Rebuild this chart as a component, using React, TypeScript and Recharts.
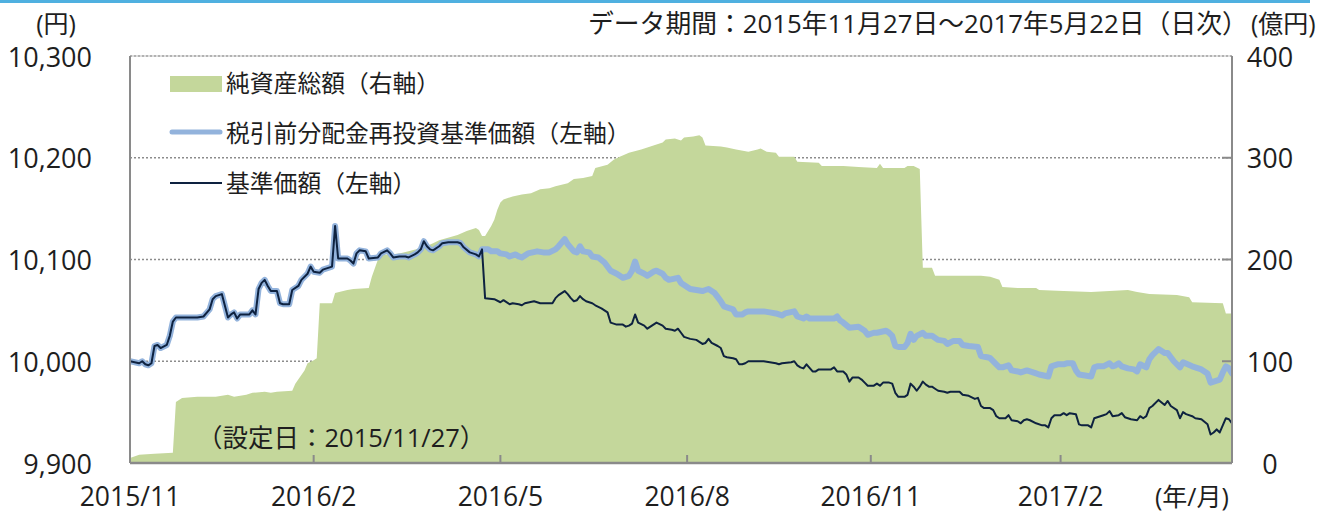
import React from 'react';
import { ComposedChart, Area, Line, XAxis, YAxis, CartesianGrid, ReferenceLine } from 'recharts';

const FONT = "'Open Sans', 'Noto Sans CJK JP', sans-serif";

// x = business-day index counted from the launch date 2015/11/27 (0 … 360)
const xTicks = [0, 60, 121, 182, 242, 304];
const xTickLabels = ['2015/11', '2016/2', '2016/5', '2016/8', '2016/11', '2017/2'];
const leftTicks = [9900, 10000, 10100, 10200, 10300];
const rightTicks = [0, 100, 200, 300, 400];

// Both NAV lines coincide until the first distribution (day 115)
const commonDays = [0, 3, 4, 5, 6, 7, 8, 9, 10, 12, 13, 14, 15, 22, 24, 26, 27, 28, 30, 32, 33, 34, 35, 36, 39, 40, 41, 42, 43, 44, 45, 46, 48, 49, 50, 52, 53, 55, 56, 58, 59, 60, 62, 63, 65, 66, 67, 68, 71, 72, 73, 74, 75, 77, 78, 81, 82, 84, 85, 86, 88, 90, 91, 93, 94, 95, 96, 97, 98, 99, 101, 102, 104, 107, 108, 109, 111, 112, 113, 114, 115];
const commonValues = [10000, 9998, 10000, 9997, 9996, 9998, 10015, 10016, 10013, 10016, 10025, 10039, 10043, 10043, 10044, 10051, 10061, 10064, 10066, 10043, 10046, 10048, 10042, 10046, 10046, 10050, 10046, 10071, 10077, 10080, 10074, 10069, 10069, 10057, 10056, 10056, 10070, 10074, 10080, 10086, 10093, 10088, 10087, 10090, 10092, 10093, 10133, 10101, 10101, 10099, 10096, 10106, 10109, 10108, 10101, 10102, 10106, 10109, 10106, 10102, 10103, 10103, 10102, 10105, 10107, 10110, 10118, 10113, 10110, 10109, 10113, 10116, 10117, 10117, 10116, 10112, 10107, 10106, 10105, 10103, 10110];

// 基準価額 after the distribution
const navDays = [116, 119, 121, 122, 124, 125, 127, 128, 129, 132, 134, 138, 139, 140, 142, 143, 144, 145, 146, 147, 148, 149, 151, 152, 154, 156, 157, 159, 161, 162, 163, 164, 165, 166, 168, 169, 171, 172, 174, 175, 177, 178, 179, 180, 181, 183, 185, 186, 187, 188, 189, 190, 192, 193, 194, 195, 197, 198, 199, 200, 201, 202, 207, 209, 211, 212, 213, 216, 217, 218, 219, 220, 221, 223, 224, 225, 229, 230, 231, 233, 234, 235, 236, 238, 239, 240, 241, 243, 244, 245, 246, 248, 249, 250, 251, 253, 254, 255, 256, 257, 258, 259, 260, 261, 262, 263, 264, 266, 267, 268, 271, 272, 274, 276, 277, 278, 279, 281, 282, 283, 284, 286, 287, 288, 290, 291, 292, 293, 294, 296, 298, 299, 300, 301, 302, 304, 305, 306, 307, 309, 310, 311, 313, 314, 315, 316, 318, 319, 320, 321, 323, 324, 325, 327, 329, 330, 331, 332, 333, 334, 336, 338, 339, 340, 342, 343, 344, 345, 347, 348, 350, 352, 353, 354, 355, 356, 358, 359, 360];
const navValues = [10062, 10061, 10058, 10060, 10056, 10057, 10056, 10055, 10057, 10059, 10057, 10057, 10062, 10065, 10069, 10066, 10062, 10059, 10060, 10064, 10061, 10059, 10057, 10055, 10052, 10048, 10038, 10036, 10036, 10034, 10035, 10037, 10046, 10038, 10035, 10032, 10036, 10038, 10035, 10032, 10031, 10030, 10032, 10028, 10024, 10022, 10021, 10019, 10017, 10018, 10022, 10018, 10015, 10013, 10005, 10004, 10003, 10002, 9997, 9997, 9998, 10000, 10000, 9999, 9998, 9997, 9998, 9999, 10000, 9996, 9994, 9993, 9997, 9990, 9990, 9992, 9992, 9994, 9990, 9990, 9987, 9980, 9984, 9984, 9982, 9979, 9976, 9976, 9978, 9976, 9979, 9979, 9978, 9969, 9965, 9965, 9967, 9978, 9975, 9971, 9975, 9980, 9977, 9975, 9975, 9973, 9971, 9970, 9969, 9970, 9970, 9967, 9966, 9963, 9964, 9956, 9954, 9954, 9952, 9946, 9944, 9944, 9947, 9942, 9941, 9939, 9942, 9943, 9942, 9939, 9937, 9937, 9935, 9944, 9947, 9947, 9949, 9947, 9949, 9948, 9938, 9937, 9937, 9935, 9944, 9945, 9947, 9948, 9951, 9946, 9947, 9949, 9945, 9943, 9942, 9946, 9944, 9946, 9954, 9956, 9962, 9957, 9961, 9956, 9952, 9944, 9950, 9948, 9946, 9944, 9943, 9938, 9928, 9930, 9933, 9930, 9944, 9943, 9939];

// 税引前分配金再投資基準価額 after the distribution
const reinvDays = [117, 118, 120, 121, 123, 124, 126, 127, 128, 130, 133, 135, 137, 139, 140, 142, 143, 145, 146, 147, 148, 150, 151, 153, 155, 157, 159, 161, 163, 164, 165, 166, 168, 169, 171, 172, 174, 175, 176, 179, 180, 182, 183, 185, 187, 188, 189, 191, 192, 193, 194, 195, 197, 198, 200, 201, 202, 207, 209, 211, 213, 214, 217, 218, 220, 221, 222, 230, 231, 232, 233, 235, 238, 240, 241, 243, 244, 247, 248, 249, 250, 251, 253, 254, 255, 256, 257, 259, 260, 262, 264, 266, 267, 269, 271, 272, 274, 277, 278, 280, 281, 283, 284, 285, 287, 288, 290, 291, 293, 294, 296, 297, 300, 301, 303, 305, 306, 308, 309, 310, 314, 315, 316, 318, 320, 321, 322, 323, 324, 326, 328, 329, 330, 332, 333, 334, 336, 338, 339, 340, 341, 343, 344, 347, 348, 350, 352, 353, 354, 356, 357, 358, 359, 360];
const reinvValues = [10110, 10108, 10108, 10106, 10105, 10103, 10105, 10103, 10102, 10106, 10108, 10107, 10107, 10110, 10113, 10120, 10115, 10108, 10107, 10113, 10108, 10107, 10103, 10102, 10097, 10089, 10086, 10082, 10084, 10089, 10098, 10089, 10086, 10084, 10088, 10089, 10086, 10082, 10080, 10082, 10077, 10073, 10071, 10070, 10069, 10070, 10071, 10067, 10063, 10059, 10054, 10053, 10051, 10046, 10046, 10048, 10049, 10049, 10048, 10047, 10045, 10047, 10049, 10044, 10042, 10044, 10042, 10042, 10044, 10040, 10038, 10033, 10034, 10030, 10026, 10028, 10028, 10030, 10028, 10025, 10015, 10014, 10014, 10018, 10027, 10021, 10025, 10028, 10025, 10025, 10021, 10020, 10017, 10020, 10020, 10016, 10015, 10014, 10005, 10004, 10003, 9997, 9994, 9994, 9996, 9991, 9990, 9989, 9991, 9990, 9988, 9987, 9985, 9995, 9997, 9997, 9998, 9998, 9991, 9987, 9985, 9994, 9995, 9995, 9998, 9995, 9996, 9998, 9995, 9993, 9992, 9990, 9997, 9994, 10002, 10006, 10012, 10008, 10008, 10004, 10000, 9994, 9999, 9995, 9994, 9992, 9988, 9979, 9980, 9982, 9989, 9995, 9993, 9988];

// 純資産総額 (億円)
const assetDays = [0, 3, 8, 14, 15, 17, 22, 28, 32, 34, 38, 40, 44, 46, 48, 53, 54, 57, 58, 60, 61, 62, 66, 67, 71, 73, 78, 79, 81, 83, 85, 88, 91, 96, 99, 101, 107, 110, 113, 114, 115, 116, 118, 119, 120, 121, 122, 125, 128, 131, 134, 137, 139, 143, 145, 148, 151, 152, 156, 158, 160, 163, 167, 170, 172, 174, 175, 178, 180, 181, 184, 186, 187, 188, 193, 195, 198, 202, 205, 206, 208, 211, 212, 217, 218, 225, 226, 233, 238, 244, 245, 246, 253, 254, 256, 258, 259, 262, 263, 278, 281, 284, 285, 290, 296, 297, 305, 314, 320, 326, 329, 333, 342, 346, 347, 357, 358, 360];
const assetValues = [5, 8, 9, 10, 60, 64, 65, 65, 67, 65, 67, 69, 70, 69, 70, 71, 78, 91, 98, 101, 103, 157, 157, 167, 170, 171, 172, 183, 200, 205, 205, 206, 208, 212, 216, 219, 224, 228, 231, 229, 223, 223, 233, 239, 249, 256, 259, 262, 264, 265, 269, 270, 272, 275, 279, 280, 282, 290, 293, 298, 301, 305, 308, 311, 313, 315, 318, 319, 317, 320, 321, 322, 320, 312, 311, 310, 308, 306, 308, 309, 306, 305, 301, 301, 296, 295, 292, 292, 291, 290, 294, 290, 290, 292, 292, 289, 192, 192, 184, 184, 183, 180, 173, 172, 172, 170, 169, 168, 169, 170, 168, 166, 165, 163, 158, 157, 147, 147];

const legendItems = [
  { kind: 'area', label: '純資産総額（右軸）' },
  { kind: 'reinv', label: '税引前分配金再投資基準価額（左軸）' },
  { kind: 'nav', label: '基準価額（左軸）' },
];

const COLORS = {
  area: '#c4d79b',
  reinv: '#93b3dc',
  nav: '#0e2240',
  frame: '#8a8a8a',
  grid: '#8c8c8c',
  text: '#1e1e1e',
  topBar: '#4fb0e0',
};

const PLOT = { left: 130, right: 1232, top: 56, bottom: 463 };

const zip = (days: number[], values: number[]) => days.map((t, i) => ({ t, v: values[i] }));
const navData = zip([...commonDays, ...navDays], [...commonValues, ...navValues]);
const reinvData = zip([...commonDays, ...reinvDays], [...commonValues, ...reinvValues]);
const assetData = zip(assetDays, assetValues);

const fmt = (v: number) => String(v).replace(/\B(?=(\d{3})+(?!\d))/g, ',');

const LeftTick = (props: any) => {
  const { y, payload } = props;
  return (
    <text x={92} y={y} textAnchor="end" dominantBaseline="central" fontSize={27} fontFamily={FONT} fill={COLORS.text}>
      {fmt(payload.value)}
    </text>
  );
};

const RightTick = (props: any) => {
  const { y, payload } = props;
  const v = payload.value;
  return (
    <g>
      {v > 0 && v < 400 && (
        <line x1={PLOT.right - 10} x2={PLOT.right} y1={y} y2={y} stroke={COLORS.frame} strokeWidth={2} />
      )}
      <text x={1270} y={y} textAnchor="middle" dominantBaseline="central" fontSize={27} fontFamily={FONT} fill={COLORS.text}>
        {fmt(v)}
      </text>
    </g>
  );
};

const BottomTick = (props: any) => {
  const { x, payload } = props;
  const idx = xTicks.indexOf(payload.value);
  return (
    <g>
      {payload.value > 0 && (
        <line x1={x} x2={x} y1={PLOT.bottom} y2={PLOT.bottom - 8} stroke={COLORS.frame} strokeWidth={2} />
      )}
      <text x={x} y={496} textAnchor="middle" dominantBaseline="central" fontSize={26.5} fontFamily={FONT} fill={COLORS.text}>
        {xTickLabels[idx]}
      </text>
    </g>
  );
};

export default function App() {
  return (
    <div style={{ position: 'absolute', left: 0, top: 0, width: 1320, height: 514, background: '#fff' }}>
      <ComposedChart
        width={1320}
        height={514}
        margin={{ top: PLOT.top, right: 0, bottom: 0, left: 0 }}
      >
        <CartesianGrid
          yAxisId="left"
          vertical={false}
          stroke={COLORS.grid}
          strokeWidth={1.5}
          strokeDasharray="2 2"
        />
        <Area
          yAxisId="right"
          data={assetData}
          dataKey="v"
          type="linear"
          fill={COLORS.area}
          fillOpacity={1}
          stroke="none"
          isAnimationActive={false}
          baseValue={0}
          dot={false}
          activeDot={false}
        />
        <Line
          yAxisId="left"
          data={reinvData}
          dataKey="v"
          type="linear"
          stroke={COLORS.reinv}
          strokeWidth={6}
          strokeLinejoin="round"
          strokeLinecap="round"
          dot={false}
          activeDot={false}
          isAnimationActive={false}
        />
        <Line
          yAxisId="left"
          data={navData}
          dataKey="v"
          type="linear"
          stroke={COLORS.nav}
          strokeWidth={2}
          strokeLinejoin="round"
          dot={false}
          activeDot={false}
          isAnimationActive={false}
        />
        <ReferenceLine yAxisId="left" y={10300} stroke="#bdbdbd" strokeWidth={1} />
        <XAxis
          dataKey="t"
          type="number"
          domain={[0, 360]}
          ticks={xTicks}
          interval={0}
          height={514 - PLOT.bottom}
          allowDataOverflow
          axisLine={{ stroke: COLORS.frame, strokeWidth: 2.5 }}
          tickLine={false}
          tick={<BottomTick />}
        />
        <YAxis
          yAxisId="left"
          orientation="left"
          width={PLOT.left}
          domain={[9900, 10300]}
          ticks={leftTicks}
          interval={0}
          allowDataOverflow
          axisLine={{ stroke: COLORS.frame, strokeWidth: 2 }}
          tickLine={false}
          tick={<LeftTick />}
        />
        <YAxis
          yAxisId="right"
          orientation="right"
          width={1320 - PLOT.right}
          domain={[0, 400]}
          ticks={rightTicks}
          interval={0}
          allowDataOverflow
          axisLine={{ stroke: COLORS.frame, strokeWidth: 2 }}
          tickLine={false}
          tick={<RightTick />}
        />
      </ComposedChart>

      <svg
        width={1320}
        height={514}
        style={{ position: 'absolute', left: 0, top: 0, pointerEvents: 'none' }}
        fontFamily={FONT}
      >
        <rect x={0} y={0} width={1310} height={3} fill={COLORS.topBar} />
        <text x={56} y={23} textAnchor="middle" dominantBaseline="central" fontSize={25} fill={COLORS.text}>(円)</text>
        <text x={588} y={23} dominantBaseline="central" fontSize={25.8} fill={COLORS.text}>
          データ期間：2015年11月27日～2017年5月22日（日次）
        </text>
        <text x={1251} y={23} dominantBaseline="central" fontSize={25} fill={COLORS.text}>(億円)</text>

        {legendItems.map((item, i) => {
          const cy = 83 + i * 50;
          return (
            <g key={item.kind}>
              {item.kind === 'area' && <rect x={170} y={76} width={52} height={16} fill={COLORS.area} />}
              {item.kind === 'reinv' && (
                <line x1={172} x2={220} y1={cy - 1} y2={cy - 1} stroke={COLORS.reinv} strokeWidth={5} strokeLinecap="round" />
              )}
              {item.kind === 'nav' && <line x1={170} x2={222} y1={cy} y2={cy} stroke={COLORS.nav} strokeWidth={2} />}
              <text x={226} y={cy} dominantBaseline="central" fontSize={23.8} fill={COLORS.text}>{item.label}</text>
            </g>
          );
        })}

        <text x={197} y={437} dominantBaseline="central" fontSize={25.5} fill={COLORS.text}>（設定日：2015/11/27）</text>
        <text x={1155} y={496} dominantBaseline="central" fontSize={25} fill={COLORS.text}>(年/月)</text>
      </svg>
    </div>
  );
}
